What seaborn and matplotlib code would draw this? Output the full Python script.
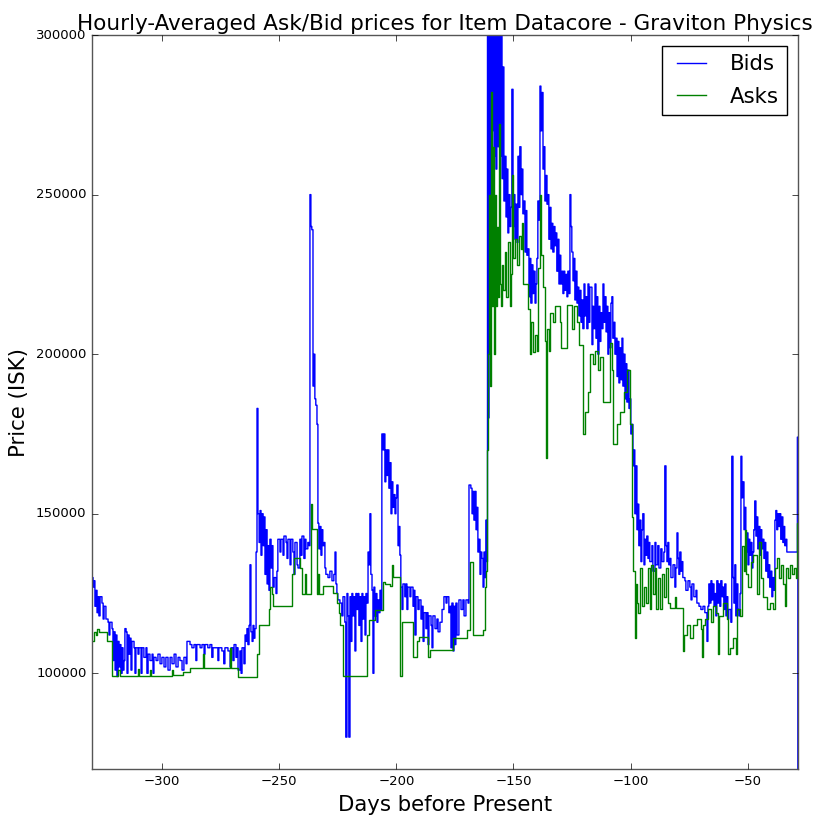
import numpy as np
import pandas as pd
import seaborn as sns
import matplotlib
matplotlib.use('Agg')
import matplotlib.pyplot as plt

# hourly averaged bid prices (days before present, price in thousands of ISK)
bid_days = [-329.9, -329.5, -329.1, -328.7, -328.2, -327.8, -327.4, -327.0, -326.5, -325.7,
            -325.2, -324.8, -324.0, -323.1, -322.7, -322.3, -321.4, -321.0, -320.6, -320.1,
            -319.7, -319.3, -318.8, -318.4, -318.0, -317.6, -317.1, -316.7, -316.3, -315.9,
            -315.4, -315.0, -314.6, -314.1, -313.7, -313.3, -312.9, -312.0, -311.6, -311.2,
            -310.3, -309.9, -309.0, -308.6, -307.8, -306.9, -306.5, -306.0, -305.2, -304.3,
            -303.9, -303.5, -302.6, -301.8, -300.9, -300.1, -299.2, -298.4, -297.5, -296.6,
            -295.8, -294.9, -294.1, -293.2, -292.4, -291.5, -290.7, -289.8, -289.4, -288.1,
            -287.3, -286.4, -285.6, -285.2, -283.8, -283.0, -282.1, -281.7, -280.5, -279.6,
            -278.8, -278.3, -277.1, -276.2, -275.8, -274.5, -273.7, -273.2, -271.9, -271.0,
            -270.6, -269.8, -269.3, -268.5, -268.0, -267.6, -266.8, -266.3, -265.9, -265.1,
            -264.6, -264.2, -263.8, -263.4, -262.9, -262.5, -262.1, -261.6, -261.2, -260.8,
            -260.4, -259.9, -259.5, -259.1, -258.6, -258.2, -257.8, -257.4, -256.9, -256.5,
            -256.1, -255.7, -255.2, -254.8, -254.4, -254.0, -253.5, -253.1, -252.7, -252.2,
            -251.4, -251.0, -250.6, -249.7, -249.3, -248.4, -248.0, -247.1, -246.7, -246.3,
            -245.4, -245.0, -244.2, -243.7, -243.3, -242.4, -242.0, -241.2, -240.7, -240.3,
            -239.5, -239.0, -238.6, -237.8, -237.3, -236.9, -236.5, -236.1, -235.6, -235.2,
            -234.8, -234.4, -233.9, -233.5, -233.1, -232.6, -232.2, -231.8, -231.4, -230.9,
            -230.5, -230.1, -229.2, -228.4, -227.5, -226.7, -226.2, -225.8, -225.4, -225.0,
            -224.1, -223.3, -222.8, -222.0, -221.6, -221.1, -220.7, -220.3, -219.8, -219.4,
            -219.0, -218.6, -218.1, -217.7, -217.3, -216.9, -216.4, -216.0, -215.6, -215.1,
            -214.7, -214.3, -213.9, -213.4, -213.0, -212.6, -212.1, -211.7, -211.3, -210.9,
            -210.4, -210.0, -209.6, -209.2, -208.7, -208.3, -207.9, -207.4, -207.0, -206.6,
            -206.2, -205.7, -205.3, -204.9, -204.5, -204.0, -203.6, -203.2, -202.7, -202.3,
            -201.9, -201.5, -201.0, -200.6, -200.2, -199.8, -199.3, -198.9, -198.5, -198.1,
            -197.6, -197.2, -196.4, -195.9, -195.5, -195.1, -194.2, -193.8, -192.9, -192.5,
            -192.1, -191.6, -190.8, -190.3, -189.5, -189.1, -188.6, -188.2, -187.4, -186.9,
            -186.5, -186.1, -185.2, -184.8, -184.4, -183.5, -182.7, -182.2, -181.4, -180.5,
            -179.7, -178.8, -178.4, -177.6, -177.1, -176.7, -176.3, -175.8, -175.4, -175.0,
            -174.6, -174.1, -173.3, -172.4, -171.6, -171.1, -170.3, -169.4, -169.0, -168.2,
            -167.7, -167.3, -166.9, -166.5, -166.0, -165.6, -165.2, -164.8, -164.3, -163.9,
            -163.5, -163.0, -162.6, -162.2, -161.8, -161.3, -161.1, -160.7, -160.5, -160.1,
            -159.6, -159.2, -158.8, -158.3, -157.9, -157.5, -157.1, -156.6, -156.2, -155.8,
            -155.4, -154.9, -154.5, -154.1, -153.7, -153.2, -152.8, -152.4, -152.0, -151.5,
            -151.1, -150.7, -150.2, -149.8, -149.4, -149.0, -148.5, -148.1, -147.7, -147.3,
            -146.8, -146.4, -146.0, -145.5, -145.1, -144.7, -144.3, -143.8, -143.4, -143.0,
            -142.6, -142.1, -141.7, -141.3, -140.8, -140.4, -140.0, -139.6, -139.1, -138.7,
            -138.3, -137.9, -137.4, -137.0, -136.6, -136.2, -135.7, -135.3, -134.9, -134.4,
            -134.0, -133.6, -133.2, -132.7, -132.3, -131.9, -131.5, -131.0, -130.6, -130.2,
            -129.8, -129.3, -128.9, -128.5, -128.1, -127.6, -127.2, -126.8, -126.3, -125.9,
            -125.5, -125.1, -124.6, -124.2, -123.8, -123.4, -122.9, -122.5, -122.1, -121.6,
            -121.2, -120.8, -120.4, -119.9, -119.5, -119.1, -118.7, -118.2, -117.8, -117.4,
            -116.5, -116.1, -115.7, -115.2, -114.8, -114.4, -114.0, -113.5, -113.1, -112.7,
            -112.2, -111.8, -111.4, -111.0, -110.5, -110.1, -109.7, -109.3, -108.8, -108.4,
            -108.0, -107.6, -107.1, -106.7, -106.3, -105.8, -105.4, -105.0, -104.6, -104.1,
            -103.7, -103.3, -102.9, -102.4, -102.0, -101.6, -101.2, -100.7, -100.3, -99.9,
            -99.4, -99.0, -98.6, -98.2, -97.7, -97.3, -96.9, -96.5, -96.0, -95.6,
            -95.2, -94.8, -94.3, -93.9, -93.5, -93.1, -92.6, -92.2, -91.8, -90.9,
            -90.5, -89.6, -89.2, -88.4, -87.9, -87.1, -86.6, -85.8, -85.4, -84.9,
            -84.5, -84.1, -83.7, -83.2, -82.8, -81.9, -81.1, -80.7, -80.2, -79.8,
            -79.4, -79.0, -78.5, -78.1, -77.7, -76.8, -76.4, -75.5, -74.7, -74.2,
            -73.8, -73.0, -72.1, -71.7, -70.8, -70.0, -69.1, -68.3, -67.4, -67.0,
            -66.6, -66.2, -65.7, -65.3, -64.9, -64.4, -64.0, -63.6, -63.2, -62.7,
            -62.3, -61.9, -61.5, -61.0, -60.6, -60.2, -59.8, -59.3, -58.9, -58.5,
            -58.1, -57.2, -56.8, -56.3, -55.9, -55.5, -55.1, -54.6, -54.2, -53.8,
            -53.3, -52.9, -52.5, -52.1, -51.6, -51.2, -50.8, -50.4, -49.9, -49.5,
            -49.1, -48.7, -48.2, -47.8, -47.4, -47.0, -46.5, -46.1, -45.7, -45.3,
            -44.8, -44.4, -44.0, -43.6, -43.1, -42.7, -42.3, -41.8, -41.4, -41.0,
            -40.6, -40.1, -39.7, -39.3, -38.9, -38.4, -38.0, -37.6, -37.2, -36.7,
            -36.3, -35.9, -35.4, -35.0, -34.6, -34.2, -33.7, -33.3, -28.8, -28.6]
bid_k = [130, 127, 129, 121, 126, 119, 124, 118, 124, 122,
         117, 121, 117, 116, 112, 116, 114, 104, 113, 101,
         112, 99, 110, 102, 109, 100, 108, 101, 104, 114,
         113, 100, 112, 106, 111, 101, 110, 108, 100, 108,
         106, 108, 100, 108, 105, 108, 100, 106, 104, 106,
         100, 105, 104, 106, 103, 105, 102, 105, 101, 105,
         103, 106, 102, 105, 104, 101, 105, 103, 110, 109,
         108, 109, 104, 109, 108, 109, 106, 109, 108, 109,
         105, 108, 108, 104, 108, 107, 103, 108, 107, 102,
         108, 104, 109, 105, 108, 101, 107, 100, 108, 103,
         112, 110, 114, 109, 115, 134, 113, 110, 115, 111,
         114, 138, 183, 150, 141, 151, 137, 150, 140, 149,
         131, 145, 128, 140, 126, 142, 133, 140, 127, 130,
         125, 132, 142, 138, 142, 137, 143, 141, 136, 142,
         134, 142, 138, 131, 141, 134, 133, 142, 137, 143,
         136, 142, 139, 141, 140, 250, 240, 239, 190, 200,
         186, 184, 178, 147, 139, 146, 137, 145, 140, 141,
         133, 131, 130, 132, 129, 131, 138, 128, 125, 123,
         122, 118, 124, 116, 80, 125, 118, 80, 124, 110,
         125, 118, 124, 107, 125, 120, 125, 115, 124, 110,
         125, 117, 124, 112, 125, 122, 138, 134, 150, 131,
         126, 100, 127, 118, 125, 116, 123, 119, 126, 120,
         175, 170, 175, 160, 170, 162, 170, 158, 166, 150,
         160, 152, 156, 150, 155, 159, 140, 146, 137, 127,
         120, 128, 124, 128, 120, 127, 124, 127, 121, 126,
         112, 124, 120, 123, 117, 121, 110, 119, 114, 119,
         109, 118, 115, 108, 118, 114, 117, 113, 116, 120,
         124, 122, 124, 119, 121, 108, 122, 107, 121, 109,
         122, 112, 123, 120, 123, 118, 123, 122, 159, 158,
         150, 157, 148, 157, 145, 152, 138, 142, 131, 138,
         136, 127, 138, 130, 148, 135, 330, 180, 340, 250,
         320, 270, 350, 262, 310, 258, 330, 265, 305, 262,
         300, 255, 290, 248, 262, 243, 258, 238, 250, 240,
         246, 283, 240, 250, 236, 247, 235, 262, 246, 265,
         250, 258, 244, 248, 232, 245, 231, 233, 218, 230,
         216, 228, 219, 226, 216, 222, 230, 248, 242, 284,
         270, 282, 258, 265, 248, 256, 247, 250, 236, 246,
         233, 241, 232, 240, 234, 238, 226, 236, 222, 231,
         222, 226, 219, 226, 220, 225, 218, 226, 219, 250,
         240, 232, 223, 230, 217, 226, 216, 221, 212, 220,
         210, 217, 208, 222, 212, 218, 208, 222, 210, 221,
         203, 215, 208, 222, 205, 218, 200, 215, 204, 213,
         208, 222, 210, 218, 207, 215, 200, 213, 202, 216,
         218, 205, 210, 200, 205, 193, 204, 191, 202, 192,
         205, 190, 200, 186, 197, 185, 195, 183, 186, 175,
         178, 165, 170, 150, 165, 145, 153, 140, 148, 135,
         145, 150, 134, 142, 137, 143, 136, 141, 135, 140,
         132, 141, 134, 140, 133, 139, 135, 138, 165, 140,
         135, 141, 134, 136, 130, 134, 127, 133, 144, 136,
         131, 138, 132, 135, 130, 129, 126, 129, 127, 123,
         128, 124, 126, 122, 121, 120, 121, 119, 110, 121,
         128, 122, 129, 123, 128, 121, 125, 118, 129, 122,
         128, 121, 129, 124, 127, 120, 128, 118, 124, 117,
         120, 116, 168, 130, 122, 134, 118, 128, 120, 118,
         125, 168, 155, 160, 145, 152, 138, 144, 134, 142,
         137, 141, 133, 138, 145, 154, 143, 149, 139, 146,
         137, 145, 139, 142, 136, 141, 132, 138, 130, 134,
         127, 132, 124, 130, 126, 148, 151, 145, 150, 146,
         150, 142, 149, 141, 146, 140, 142, 138, 174, 40]

# hourly averaged ask prices
ask_days = [-329.9, -329.1, -328.2, -327.8, -327.0, -323.5, -321.4, -318.8, -318.0, -310.3,
            -309.9, -305.2, -304.7, -295.8, -295.4, -291.1, -288.1, -282.6, -282.1, -271.0,
            -270.6, -267.6, -259.5, -258.6, -254.4, -254.0, -253.1, -252.7, -244.7, -243.5,
            -241.2, -240.3, -238.8, -238.6, -236.5, -236.1, -233.7, -233.5, -233.1, -231.4,
            -227.1, -225.4, -224.5, -224.1, -222.8, -212.6, -211.7, -209.0, -205.7, -204.9,
            -202.7, -201.9, -201.5, -198.5, -197.6, -192.9, -191.2, -190.3, -186.5, -185.7,
            -175.8, -169.9, -168.6, -167.3, -163.0, -162.2, -161.8, -161.3, -160.9, -160.5,
            -160.1, -159.6, -159.2, -158.8, -158.3, -157.9, -157.5, -157.1, -156.6, -156.2,
            -155.8, -155.4, -154.9, -154.5, -153.7, -153.2, -152.4, -151.5, -151.1, -150.7,
            -150.2, -149.4, -148.5, -147.7, -146.8, -146.4, -146.0, -143.8, -143.0, -142.6,
            -141.7, -140.8, -140.0, -139.6, -138.7, -138.3, -137.4, -136.6, -136.2, -135.7,
            -134.9, -134.4, -133.2, -132.3, -130.2, -129.8, -127.2, -125.1, -124.2, -122.9,
            -122.1, -120.4, -119.5, -118.2, -117.4, -116.1, -115.2, -114.0, -113.1, -111.8,
            -108.8, -108.0, -107.6, -105.8, -104.6, -102.9, -101.6, -100.3, -99.4, -99.0,
            -98.2, -97.7, -97.3, -96.9, -96.0, -95.2, -94.3, -93.5, -92.6, -91.8,
            -91.4, -90.5, -89.6, -89.2, -88.4, -87.5, -86.6, -85.8, -84.9, -84.1,
            -83.2, -81.1, -80.7, -77.7, -77.2, -75.9, -74.7, -73.4, -71.7, -70.0,
            -69.6, -69.1, -68.3, -67.0, -65.7, -64.9, -63.6, -62.7, -62.3, -60.6,
            -58.9, -58.5, -57.6, -56.3, -55.1, -54.6, -53.3, -52.5, -51.6, -51.2,
            -50.8, -49.9, -48.7, -47.8, -46.1, -45.3, -44.4, -43.6, -41.8, -40.6,
            -39.3, -38.4, -37.6, -36.7, -35.9, -35.0, -34.2, -33.7, -32.9, -32.0,
            -31.2, -30.3, -29.5, -29.0, -28.6]
ask_k = [110, 113, 112, 114, 113, 110, 99, 101, 99, 101.5,
         99, 101, 99, 101, 99.5, 100.5, 101.7, 106, 101.8, 108,
         101.8, 98.8, 106, 115, 120, 127, 125, 121.2, 131, 136,
         133, 124.7, 131, 124.7, 153, 145.2, 124.7, 131, 124.7, 127.5,
         125.3, 122, 119, 115, 99, 112, 116.6, 119.8, 128.5, 128,
         127.5, 134, 130.2, 99, 116, 105, 110, 111.5, 105, 107.2,
         111, 113.5, 135, 112, 113.5, 127, 132, 170, 200, 250,
         190, 282, 215, 265, 200, 250, 215, 240, 218, 272,
         222, 215, 228, 220, 232, 218, 235, 215, 225, 256,
         230, 236, 228, 237, 233, 241, 222, 214, 200, 210,
         200.7, 206, 201, 227, 250, 231, 221, 204, 167.5, 208,
         201, 213, 210, 215, 210, 202, 215.4, 208, 215, 210,
         203, 175, 182, 188, 200, 197, 201, 195, 199, 185,
         203.5, 195, 172, 178, 182, 188, 195, 178, 149, 132,
         111, 128, 122, 119, 133, 121, 127, 122, 133, 120,
         134, 125, 133, 120, 130, 120, 131, 124, 133, 122,
         120.4, 124, 120.4, 107, 112, 115, 111, 115, 117, 114,
         105, 115, 117, 120, 116, 121, 119, 106, 118, 122,
         117, 106, 108, 111, 106, 120, 118, 140, 132, 145,
         131, 127, 135, 137, 125, 141, 130, 124, 120, 122,
         120, 133, 136, 130, 134, 128, 121, 133, 130, 134,
         131, 133, 130, 147, 147]

plt.style.use('classic')

bids = pd.DataFrame({'day': bid_days, 'price': np.array(bid_k) * 1000.0, 'series': 'Bids'})
asks = pd.DataFrame({'day': ask_days, 'price': np.array(ask_k) * 1000.0, 'series': 'Asks'})
df = pd.concat([bids, asks], ignore_index=True)

fig = plt.figure(figsize=(8.17, 8.15), dpi=100, facecolor='white')
ax = fig.add_axes([0.1126, 0.0564, 0.8641, 0.9006])

sns.lineplot(data=df, x='day', y='price', hue='series', hue_order=['Bids', 'Asks'],
             palette={'Bids': 'blue', 'Asks': 'green'}, estimator=None, sort=True,
             drawstyle='steps-post', linewidth=1.0, legend=False, ax=ax)

ax.set_xlim(-329.95, -28.55)
ax.set_ylim(70000, 300000)
ax.set_title('Hourly-Averaged Ask/Bid prices for Item Datacore - Graviton Physics',
             fontsize=15.5, pad=3.5)
ax.set_xlabel('Days before Present', fontsize=15.3)
ax.set_ylabel('Price (ISK)', fontsize=15.3)
ax.tick_params(labelsize=9.5)
for s in ax.spines.values():
    s.set_color('#555555')

ax.legend(ax.lines[:2], ['Bids', 'Asks'], loc='upper right', fontsize=15.3,
          labelspacing=0.6)

fig.savefig('out.png', dpi=100, facecolor='white')
